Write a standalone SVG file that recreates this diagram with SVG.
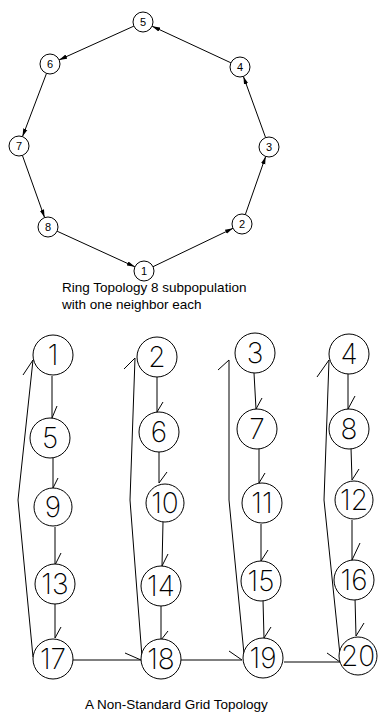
<svg xmlns="http://www.w3.org/2000/svg" width="378" height="713" viewBox="0 0 378 713">
<style>
.rn circle{fill:#fff;stroke:#000;stroke-width:1}
.rn text{font-family:"Liberation Sans",Arial,sans-serif;font-size:11px;text-anchor:middle;fill:#000}
.gn circle{fill:#fff;stroke:#000;stroke-width:1}
.gn text{font-family:Inter,"Liberation Sans",sans-serif;font-weight:200;font-size:28px;text-anchor:middle;fill:#000}
.edge{stroke:#000;stroke-width:1;fill:none}
.cap{font-family:"Liberation Sans",Arial,sans-serif;font-size:13.5px;fill:#000}
</style>
<defs>
<marker id="ah" markerWidth="8" markerHeight="6" refX="8" refY="3" orient="auto" markerUnits="userSpaceOnUse">
<path d="M0,0.8 L8,3 L0,5.2 Z" fill="#000"/>
</marker>
</defs>
<rect width="378" height="713" fill="#fff"/>
<g id="ring-connectors">
<line class="edge" x1="57.1" y1="231.2" x2="134.9" y2="266.8" marker-end="url(#ah)"/>
<line class="edge" x1="153" y1="266.7" x2="233" y2="228.3" marker-end="url(#ah)"/>
<line class="edge" x1="245.3" y1="214.6" x2="265.7" y2="156.4" marker-end="url(#ah)"/>
<line class="edge" x1="265.6" y1="137.6" x2="243.4" y2="76.4" marker-end="url(#ah)"/>
<line class="edge" x1="230.9" y1="62.8" x2="152.1" y2="26.2" marker-end="url(#ah)"/>
<line class="edge" x1="133.9" y1="26.1" x2="59.1" y2="59.9" marker-end="url(#ah)"/>
<line class="edge" x1="46.5" y1="73.4" x2="22.5" y2="136.6" marker-end="url(#ah)"/>
<line class="edge" x1="22.4" y1="155.4" x2="44.6" y2="217.6" marker-end="url(#ah)"/>
</g>
<g id="r5" class="rn"><circle cx="143" cy="22" r="10"/><text x="143" y="26">5</text></g>
<g id="r6" class="rn"><circle cx="50" cy="64" r="10"/><text x="50" y="68">6</text></g>
<g id="r7" class="rn"><circle cx="19" cy="146" r="10"/><text x="19" y="150">7</text></g>
<g id="r8" class="rn"><circle cx="48" cy="227" r="10"/><text x="48" y="231">8</text></g>
<g id="r1" class="rn"><circle cx="144" cy="271" r="10"/><text x="144" y="275">1</text></g>
<g id="r2" class="rn"><circle cx="242" cy="224" r="10"/><text x="242" y="228">2</text></g>
<g id="r3" class="rn"><circle cx="269" cy="147" r="10"/><text x="269" y="151">3</text></g>
<g id="r4" class="rn"><circle cx="240" cy="67" r="10"/><text x="240" y="71">4</text></g>
<text class="cap" x="62" y="292">Ring Topology 8 subpopulation</text>
<text class="cap" x="62" y="309">with one neighbor each</text>
<g id="grid-connectors">
<path class="edge" d="M52,376 L52,418 L57,406"/>
<path class="edge" d="M53,457 L53,488 L58,478"/>
<path class="edge" d="M55,527 L55,565 L61,553"/>
<path class="edge" d="M55,604 L55,638 L61,627"/>
<path class="edge" d="M157,377 L157,412 L163,402"/>
<path class="edge" d="M159,452 L159,483 L167,472"/>
<path class="edge" d="M163,522 L162,566 L168,554"/>
<path class="edge" d="M161,606 L161,640 L168,631"/>
<path class="edge" d="M254,373 L256,409 L262,398"/>
<path class="edge" d="M259,448 L259,483 L265,473"/>
<path class="edge" d="M261,524 L261,561 L268,550"/>
<path class="edge" d="M263,600 L264,638 L271,627"/>
<path class="edge" d="M348,373 L348,409 L355,396"/>
<path class="edge" d="M351,448 L352,480 L359,469"/>
<path class="edge" d="M352,520 L352,560 L360,543"/>
<path class="edge" d="M355,598 L356,636 L364,623"/>
<path class="edge" d="M33,657 L18,500 L33,360 M23,375 L33,360"/>
<path class="edge" d="M142,657 L130,500 L135,358 M124,369 L135,358"/>
<path class="edge" d="M244,654 L229,500 L229,360 M218,370 L229,360"/>
<path class="edge" d="M340,655 L324,500 L329,360 M317,377 L329,360"/>
<path class="edge" d="M73,660 L141,660 L125,653"/>
<path class="edge" d="M181,660 L242,660 L229,651"/>
<path class="edge" d="M284,662 L340,662 L327,653"/>
</g>
<g id="g1" class="gn"><circle cx="53" cy="355" r="20"/><text x="53" y="365">1</text></g>
<g id="g5" class="gn"><circle cx="50" cy="438" r="20"/><text x="50" y="448">5</text></g>
<g id="g9" class="gn"><circle cx="53" cy="507" r="19"/><text x="53" y="517">9</text></g>
<g id="g13" class="gn"><circle cx="55" cy="584" r="20"/><text x="55" y="594">13</text></g>
<g id="g17" class="gn"><circle cx="53" cy="659" r="20"/><text x="53" y="669">17</text></g>
<g id="g2" class="gn"><circle cx="157" cy="357" r="20"/><text x="157" y="367">2</text></g>
<g id="g6" class="gn"><circle cx="159" cy="432" r="20"/><text x="159" y="442">6</text></g>
<g id="g10" class="gn"><circle cx="165" cy="503" r="19"/><text x="165" y="513">10</text></g>
<g id="g14" class="gn"><circle cx="161" cy="586" r="20"/><text x="161" y="596">14</text></g>
<g id="g18" class="gn"><circle cx="161" cy="659" r="20"/><text x="161" y="669">18</text></g>
<g id="g3" class="gn"><circle cx="255" cy="353" r="20"/><text x="255" y="363">3</text></g>
<g id="g7" class="gn"><circle cx="257" cy="429" r="20"/><text x="257" y="439">7</text></g>
<g id="g11" class="gn"><circle cx="262" cy="503" r="20"/><text x="262" y="513">11</text></g>
<g id="g15" class="gn"><circle cx="261" cy="581" r="20"/><text x="261" y="591">15</text></g>
<g id="g19" class="gn"><circle cx="263" cy="658" r="20"/><text x="263" y="668">19</text></g>
<g id="g4" class="gn"><circle cx="349" cy="354" r="20"/><text x="349" y="364">4</text></g>
<g id="g8" class="gn"><circle cx="349" cy="429" r="20"/><text x="349" y="439">8</text></g>
<g id="g12" class="gn"><circle cx="354" cy="500" r="19"/><text x="354" y="510">12</text></g>
<g id="g16" class="gn"><circle cx="354" cy="580" r="20"/><text x="354" y="590">16</text></g>
<g id="g20" class="gn"><circle cx="358" cy="656" r="19"/><text x="358" y="666">20</text></g>
<text class="cap" x="85" y="709">A Non-Standard Grid Topology</text>
</svg>
